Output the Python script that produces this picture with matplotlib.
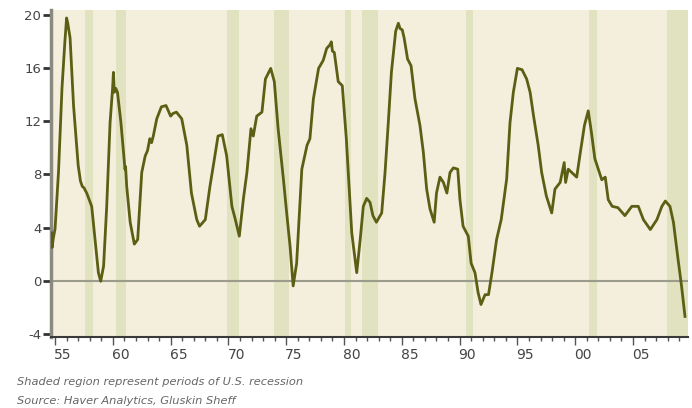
import matplotlib
matplotlib.use("Agg")
import matplotlib.pyplot as plt
from matplotlib.ticker import FixedLocator, MultipleLocator
import matplotlib.transforms as mtransforms

# ---- data -----------------------------------------------------------------
years = [1954.68, 1954.75, 1954.85, 1955.0, 1955.3, 1955.6, 1955.85, 1956.0, 1956.1, 1956.3,
         1956.6, 1957.0, 1957.2, 1957.36, 1957.5, 1957.74, 1958.17, 1958.46, 1958.75, 1958.95,
         1959.2, 1959.47, 1959.76, 1959.98, 1960.05, 1960.13, 1960.25, 1960.4, 1960.7, 1961.05,
         1961.1, 1961.2, 1961.5, 1961.86, 1962.15, 1962.5, 1962.8, 1963.0, 1963.2, 1963.35,
         1963.5, 1963.8, 1964.2, 1964.6, 1965.0, 1965.2, 1965.5, 1965.96, 1966.4, 1966.8,
         1967.26, 1967.5, 1968.0, 1968.4, 1968.7, 1969.1, 1969.47, 1969.85, 1970.3, 1970.6,
         1970.94, 1971.3, 1971.6, 1971.95, 1972.15, 1972.45, 1972.9, 1973.2, 1973.66, 1973.97,
         1974.3, 1974.75, 1975.04, 1975.33, 1975.6, 1975.9, 1976.35, 1976.8, 1977.05, 1977.35,
         1977.8, 1978.2, 1978.5, 1978.8, 1978.9, 1979.0, 1979.16, 1979.5, 1979.85, 1980.2,
         1980.67, 1981.1, 1981.4, 1981.67, 1981.96, 1982.25, 1982.5, 1982.8, 1983.26, 1983.55,
         1983.83, 1984.1, 1984.47, 1984.7, 1984.85, 1985.04, 1985.2, 1985.5, 1985.8, 1986.14,
         1986.57, 1986.86, 1987.15, 1987.44, 1987.8, 1988.0, 1988.3, 1988.6, 1988.9, 1989.17,
         1989.46, 1989.84, 1990.03, 1990.3, 1990.75, 1991.0, 1991.33, 1991.6, 1991.85, 1992.2,
         1992.5, 1992.8, 1993.2, 1993.6, 1994.07, 1994.36, 1994.65, 1995.0, 1995.4, 1995.8,
         1996.1, 1996.4, 1996.8, 1997.1, 1997.5, 1997.97, 1998.25, 1998.7, 1999.05, 1999.17,
         1999.4, 1999.7, 2000.13, 2000.4, 2000.8, 2001.13, 2001.4, 2001.7, 2002.0, 2002.3,
         2002.6, 2002.86, 2003.2, 2003.7, 2004.3, 2004.9, 2005.46, 2005.9, 2006.5, 2007.07,
         2007.5, 2007.8, 2008.2, 2008.5, 2008.9, 2009.2, 2009.5]
values = [3.6, 2.5, 3.2, 3.9, 8.2, 14.5, 18.0, 19.8, 19.4, 18.3,
          13.2, 8.7, 7.5, 7.1, 7.0, 6.6, 5.6, 3.1, 0.6, -0.05,
          1.1, 5.6, 11.9, 14.5, 15.7, 14.2, 14.5, 14.2, 11.9, 8.4,
          8.6, 7.1, 4.4, 2.75, 3.1, 8.15, 9.4, 9.8, 10.7, 10.4,
          10.9, 12.2, 13.1, 13.2, 12.4, 12.6, 12.7, 12.2, 10.2, 6.6,
          4.6, 4.1, 4.6, 7.1, 8.7, 10.9, 11.0, 9.4, 5.6, 4.6,
          3.35, 6.2, 8.15, 11.45, 10.9, 12.4, 12.7, 15.2, 16.0, 15.0,
          11.45, 7.7, 5.1, 2.6, -0.4, 1.3, 8.4, 10.2, 10.7, 13.7,
          16.0, 16.6, 17.5, 17.8, 18.0, 17.3, 17.2, 15.0, 14.7, 10.7,
          3.6, 0.6, 3.1, 5.6, 6.2, 5.9, 4.9, 4.4, 5.1, 8.15,
          11.9, 15.7, 18.8, 19.4, 19.0, 18.9, 18.3, 16.7, 16.2, 13.7,
          11.7, 9.7, 6.9, 5.4, 4.4, 6.6, 7.8, 7.4, 6.6, 8.15,
          8.5, 8.4, 6.1, 4.1, 3.35, 1.3, 0.6, -0.9, -1.8, -1.06,
          -1.06, 0.6, 3.1, 4.6, 7.65, 11.9, 14.2, 16.0, 15.9, 15.2,
          14.2, 12.4, 10.2, 8.15, 6.4, 5.1, 6.9, 7.4, 8.9, 7.4,
          8.4, 8.15, 7.8, 9.4, 11.7, 12.8, 11.2, 9.2, 8.4, 7.6,
          7.8, 6.1, 5.6, 5.5, 4.9, 5.6, 5.6, 4.6, 3.85, 4.6,
          5.6, 6.0, 5.6, 4.4, 1.6, -0.4, -2.7]

recession_start = [1957.6, 1960.3, 1969.9, 1973.9, 1980.05, 1981.55, 1990.55, 2001.2, 2007.9]
recession_end = [1958.3, 1961.1, 1970.9, 1975.2, 1980.6, 1982.9, 1991.2, 2001.9, 2009.8]

y_ticks = [-4, 0, 4, 8, 12, 16, 20]
x_tick_years = [1955, 1960, 1965, 1970, 1975, 1980, 1985, 1990, 1995, 2000, 2005]
x_tick_labels = ["55", "60", "65", "70", "75", "80", "85", "90", "95", "00", "05"]

# ---- figure ---------------------------------------------------------------
fig = plt.figure(figsize=(6.92, 4.08), dpi=100)
ax = fig.add_axes([51 / 692, (408 - 337) / 408, (688 - 51) / 692, (337 - 10) / 408])
ax.set_facecolor("#F4EEDC")

for s, e in zip(recession_start, recession_end):
    ax.axvspan(s, e, color="#E1E2C0", lw=0, zorder=1)

ax.axhline(0, color="#9C9C8C", lw=1.5, zorder=2)
ax.plot(years, values, color="#5B5F14", lw=2.0, zorder=3, solid_joinstyle="round")

ax.set_xlim(1954.65, 2009.76)
ax.set_ylim(-4.25, 20.4)

ax.spines["top"].set_visible(False)
ax.spines["right"].set_visible(False)
ax.spines["left"].set_color("#8A8A80")
ax.spines["left"].set_linewidth(2.5)
ax.spines["bottom"].set_color("#3A3A3A")
ax.spines["bottom"].set_linewidth(1.5)

ax.yaxis.set_major_locator(FixedLocator(y_ticks))
ax.set_yticklabels([str(v) for v in y_ticks])
ax.tick_params(axis="y", length=6, width=2, color="#333333", pad=1,
               labelsize=9.5, labelcolor="#444444")

ax.xaxis.set_major_locator(FixedLocator(x_tick_years))
ax.set_xticklabels(x_tick_labels)
ax.xaxis.set_minor_locator(MultipleLocator(1))
ax.tick_params(axis="x", which="major", length=6, width=1, color="#555555",
               labelsize=10, labelcolor="#444444", pad=2)
ax.tick_params(axis="x", which="minor", length=3, width=1, color="#555555")
offset = mtransforms.ScaledTranslation(-1 / 100, 0, fig.dpi_scale_trans)
for lbl in ax.get_xticklabels():
    lbl.set_horizontalalignment("left")
    lbl.set_transform(lbl.get_transform() + offset)

fig.text(17 / 692, 1 - 382 / 408, "Shaded region represent periods of U.S. recession",
         fontsize=8.2, style="italic", color="#666666", va="center", ha="left")
fig.text(17 / 692, 1 - 401 / 408, "Source: Haver Analytics, Gluskin Sheff",
         fontsize=8.2, style="italic", color="#666666", va="center", ha="left")

fig.savefig("out.png", dpi=100)
